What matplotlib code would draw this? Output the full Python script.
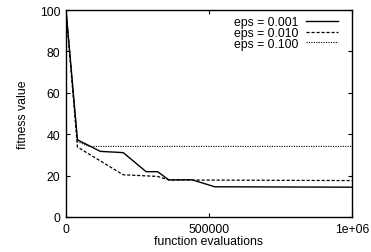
import matplotlib
matplotlib.use('Agg')
import matplotlib.pyplot as plt

plt.rcParams['font.family'] = ['Liberation Sans', 'DejaVu Sans']

# values
evals_001 = [0, 40000, 120000, 200000, 280000, 320000, 360000, 440000, 520000, 1000000]
fit_001 = [100, 37.3, 31.7, 31.1, 21.9, 21.9, 17.9, 18.0, 14.6, 14.4]

evals_010 = [0, 40000, 200000, 320000, 360000, 1000000]
fit_010 = [100, 33.8, 20.4, 19.6, 17.9, 17.6]

evals_100 = [0, 40000, 80000, 1000000]
fit_100 = [100, 36.4, 34.1, 34.1]

xticks = [0, 500000, 1000000]
xticklabels = ['0', '500000', '1e+06']
yticks = [0, 20, 40, 60, 80, 100]

fig = plt.figure(figsize=(3.71, 2.53), dpi=100)
ax = fig.add_axes([66/371, 1 - 218/253, 286/371, 207/253])

ax.plot(evals_001, fit_001, color='black', lw=1.0, label='eps = 0.001')
ax.plot(evals_010, fit_010, color='black', lw=0.9, dashes=(2.5, 1.5), label='eps = 0.010')
ax.plot(evals_100, fit_100, color='black', lw=0.8, dashes=(1, 1.2), label='eps = 0.100')

ax.set_xlim(0, 1000000)
ax.set_ylim(0, 100)
ax.set_xticks(xticks)
ax.set_xticklabels(xticklabels)
ax.set_yticks(yticks)
ax.tick_params(direction='in', top=True, right=True, length=3, width=0.8,
               labelsize=8.8, pad=4)
for s in ax.spines.values():
    s.set_linewidth(1.0)

ax.set_xlabel('function evaluations', fontsize=8.8, labelpad=0)
ax.set_ylabel('fitness value', fontsize=8.8, labelpad=8)

ax.legend(loc='upper right', frameon=False, fontsize=8.8, markerfirst=False,
          handlelength=2.6, handletextpad=0.65, labelspacing=-0.12,
          borderaxespad=0.3, bbox_to_anchor=(0.981, 1.01))

fig.savefig('out.png', dpi=100)
